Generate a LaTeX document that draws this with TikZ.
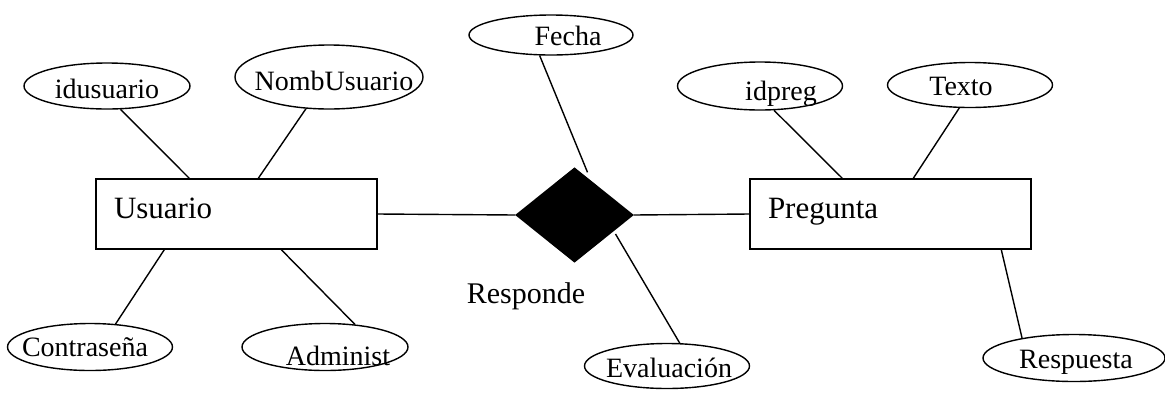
\documentclass[tikz,border=0pt]{standalone}
\usepackage{fontspec}
\setmainfont{Liberation Serif}
\usetikzlibrary{shapes.geometric,positioning,calc}

\begin{document}
\begin{tikzpicture}[x=1pt,y=-1pt,line width=1.4pt,
   entity/.style={draw,rectangle,minimum width=281pt,minimum height=70pt,
      text width=245pt,inner xsep=18pt,align=left,
      text height=21pt,text depth=12pt,font=\fontsize{31}{33}\selectfont},
   attrib/.style={draw,ellipse,inner sep=0pt},
   attrtext/.style={inner sep=0pt,text height=19pt,text depth=0pt,
      font=\fontsize{28}{30}\selectfont},
   relation/.style={draw,diamond,fill=black,inner sep=0pt,
      minimum width=117pt,minimum height=94pt}]
   \useasboundingbox (0,0) rectangle (1165,392);

   % entidades y relacion
   \node[entity] (usuario)  at (236.5,214) {Usuario};
   \node[entity] (pregunta) at (890.5,214) {Pregunta};
   \node[relation,label={[attrtext,text height=20pt,font=\fontsize{30}{32}\selectfont,
      xshift=-48.5pt,yshift=-78pt]center:Responde}] (responde) at (574.5,215) {};

   % atributos
   \node[attrib,minimum width=166pt,minimum height=46pt,
      label={[attrtext,yshift=-3pt]center:idusuario}] (idusuario) at (107,86) {};
   \node[attrib,minimum width=188pt,minimum height=64pt,
      label={[attrtext,xshift=5pt,yshift=-4pt]center:NombUsuario}] (nombusuario) at (329,77) {};
   \node[attrib,minimum width=165pt,minimum height=47pt,
      label={[attrtext,xshift=-5pt]center:Contraseña}] (contrasena) at (90,347) {};
   \node[attrib,minimum width=166pt,minimum height=47pt,
      label={[attrtext,xshift=13pt,yshift=-9pt]center:Administ}] (administ) at (325,347) {};
   \node[attrib,minimum width=164pt,minimum height=40pt,
      label={[attrtext,xshift=17pt,yshift=-1pt]center:Fecha}] (fecha) at (551,35) {};
   \node[attrib,minimum width=165pt,minimum height=45pt,
      label={[attrtext,xshift=2pt,yshift=-2pt]center:Evaluación}] (evaluacion) at (667,366) {};
   \node[attrib,minimum width=165pt,minimum height=48pt,
      label={[attrtext,xshift=21pt,yshift=-5pt]center:idpreg}] (idpreg) at (760,86) {};
   \node[attrib,minimum width=165pt,minimum height=45pt,
      label={[attrtext,xshift=-9pt,yshift=-1pt]center:Texto}] (texto) at (970,85) {};
   \node[attrib,minimum width=182pt,minimum height=47pt,
      label={[attrtext,xshift=2pt,yshift=-1pt]center:Respuesta}] (respuesta) at (1074,358) {};

   \path
    (idusuario.-60)   edge ([xshift=94pt]usuario.north west)
    (nombusuario.-126) edge ([xshift=163pt]usuario.north west)
    (contrasena.42)   edge ([xshift=69pt]usuario.south west)
    (administ.37)     edge ([xshift=186pt]usuario.south west)
    (usuario.east)    edge (responde.west)
    (responde.east)   edge (pregunta.west)
    (fecha.-119)      edge ([xshift=13pt,yshift=-5pt]responde.north)
    (evaluacion.61)   edge ([xshift=41pt,yshift=-19pt]responde.center)
    (idpreg.-60)      edge ([xshift=93pt]pregunta.north west)
    (texto.-115)      edge ([xshift=164pt]pregunta.north west)
    (respuesta.159)   edge ([xshift=252pt]pregunta.south west)
      ;
\end{tikzpicture}
\end{document}
